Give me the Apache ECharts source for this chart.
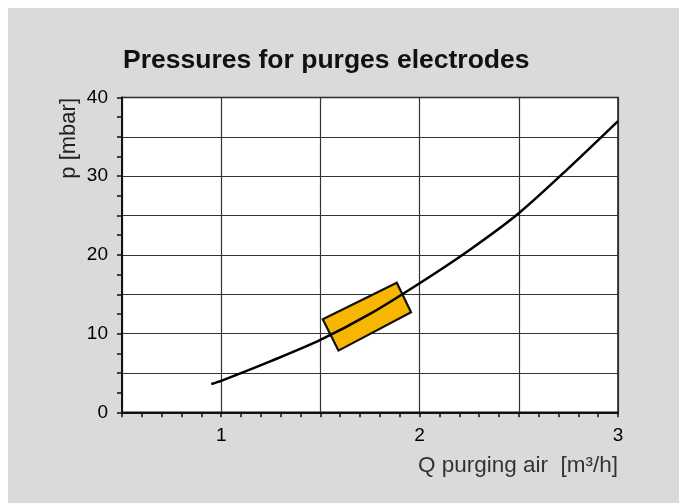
<!DOCTYPE html>
<html>
<head>
<meta charset="utf-8">
<script src="https://cdn.jsdelivr.net/npm/echarts@6/dist/echarts.min.js"></script>
<style>
  body { margin: 0; background: #fff; }
  #chart { position: absolute; left: 8px; top: 8px; width: 671px; height: 495px; }
</style>
</head>
<body>
<div id="chart"></div>
<script>
// curve: Q [m3/h] -> p [mbar]
const flowQ = [0.95, 1.0, 1.25, 1.5, 1.75, 2.0, 2.25, 2.5, 2.75, 3.0]
const pressureP = [3.6, 4.0, 6.5, 9.2, 12.5, 16.4, 20.6, 25.3, 31.0, 37.0]

// corners of the orange working range box
const boxQ = [1.512, 1.885, 1.957, 1.591]
const boxP = [11.83, 16.45, 12.72, 7.84]

const xLabels = [1, 2, 3]
const yLabels = [0, 10, 20, 30, 40]

const chart = echarts.init(document.getElementById('chart'))

const labelFont = {
  color: '#000',
  fontSize: 19,
  fontFamily: 'Liberation Sans, Arial, sans-serif'
}

const option = {
  backgroundColor: '#d9dadb',
  animation: false,
  title: {
    text: 'Pressures for purges electrodes',
    left: 110,
    top: 34,
    textStyle: {
      color: '#111',
      fontSize: 26.5,
      fontWeight: 'bold',
      fontFamily: 'Liberation Sans, Arial, sans-serif'
    }
  },
  grid: {
    left: 114,
    top: 89.5,
    right: 61,
    bottom: 90.7,
    show: true,
    backgroundColor: '#fff',
    borderColor: '#111',
    borderWidth: 1.5
  },
  xAxis: {
    type: 'value',
    min: 0.5,
    max: 3,
    interval: 0.5,
    name: 'Q purging air  [m³/h]',
    nameLocation: 'end',
    nameGap: 0,
    nameTextStyle: {
      color: '#333',
      fontSize: 22.5,
      fontFamily: 'Liberation Sans, Arial, sans-serif',
      align: 'right',
      verticalAlign: 'top',
      padding: [42, 0, 0, 0]
    },
    axisLine: { show: true, lineStyle: { color: '#111', width: 2 } },
    axisTick: { show: true, length: 5, lineStyle: { color: '#111', width: 1.5 } },
    minorTick: { show: true, splitNumber: 5, length: 5, lineStyle: { color: '#111', width: 1.5 } },
    splitLine: { show: true, lineStyle: { color: '#333', width: 1.2 } },
    axisLabel: {
      ...labelFont,
      margin: 14,
      formatter: v => (xLabels.indexOf(v) >= 0 ? String(v) : '')
    }
  },
  yAxis: {
    type: 'value',
    min: 0,
    max: 40,
    interval: 5,
    axisLine: { show: true, lineStyle: { color: '#111', width: 2 } },
    axisTick: { show: true, length: 5, lineStyle: { color: '#111', width: 1.5 } },
    minorTick: { show: true, splitNumber: 2, length: 5, lineStyle: { color: '#111', width: 1.5 } },
    splitLine: { show: true, lineStyle: { color: '#333', width: 1.2 } },
    axisLabel: {
      ...labelFont,
      margin: 14,
      formatter: v => (yLabels.indexOf(v) >= 0 ? String(v) : '')
    }
  },
  graphic: [{
    type: 'text',
    x: 61,
    y: 90,
    rotation: Math.PI / 2,
    style: {
      text: 'p [mbar]',
      align: 'right',
      verticalAlign: 'middle',
      fill: '#222',
      fontSize: 22,
      fontFamily: 'Liberation Sans, Arial, sans-serif'
    }
  }],
  series: [
    {
      type: 'custom',
      z: 3,
      data: [[boxQ[0], boxP[0]]],
      renderItem: (params, api) => {
        const pts = boxQ.map((q, i) => api.coord([q, boxP[i]]))
        return {
          type: 'polygon',
          shape: { points: pts },
          style: { fill: '#f7b600', stroke: '#111', lineWidth: 2.2 }
        }
      }
    },
    {
      type: 'line',
      z: 5,
      smooth: 0.3,
      symbol: 'none',
      data: flowQ.map((q, i) => [q, pressureP[i]]),
      lineStyle: { color: '#000', width: 2.5 }
    }
  ]
}

chart.setOption(option)
</script>
</body>
</html>
